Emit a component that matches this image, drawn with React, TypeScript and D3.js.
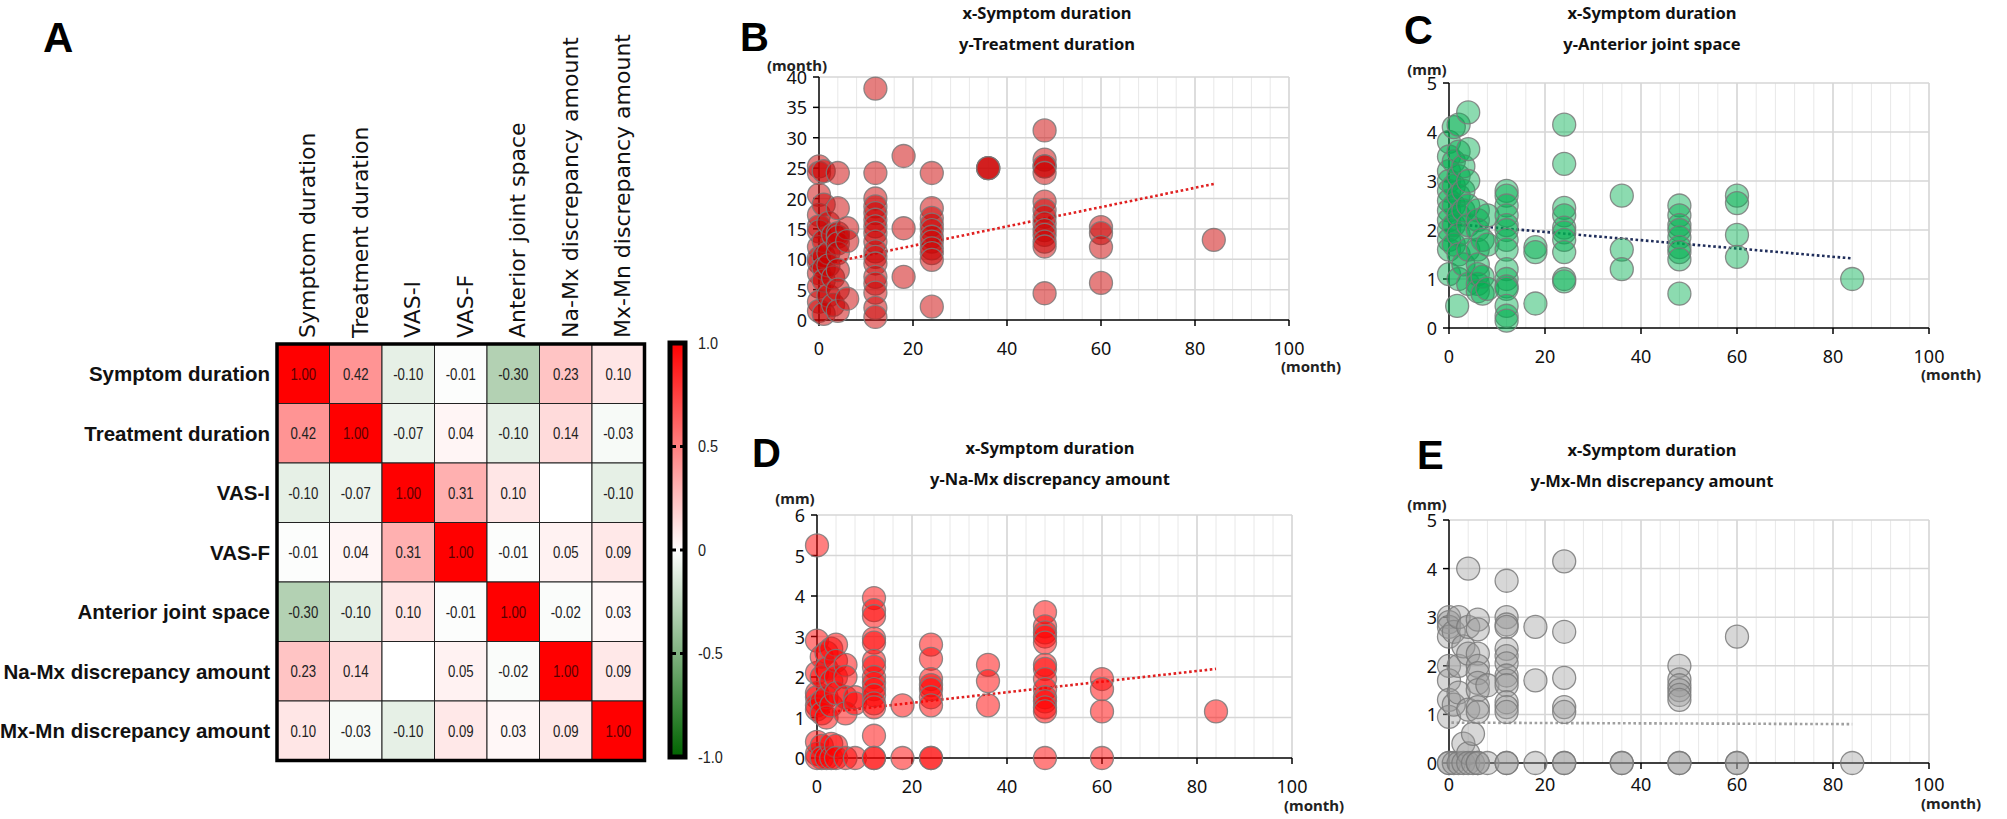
import React from 'react';
import * as d3 from 'd3';

// ---------------- DATA ----------------
const variables = [
  'Symptom duration',
  'Treatment duration',
  'VAS-I',
  'VAS-F',
  'Anterior joint space',
  'Na-Mx discrepancy amount',
  'Mx-Mn discrepancy amount',
];

const correlations: (number | null)[][] = [
  [1.0, 0.42, -0.1, -0.01, -0.3, 0.23, 0.1],
  [0.42, 1.0, -0.07, 0.04, -0.1, 0.14, -0.03],
  [-0.1, -0.07, 1.0, 0.31, 0.1, null, -0.1],
  [-0.01, 0.04, 0.31, 1.0, -0.01, 0.05, 0.09],
  [-0.3, -0.1, 0.1, -0.01, 1.0, -0.02, 0.03],
  [0.23, 0.14, null, 0.05, -0.02, 1.0, 0.09],
  [0.1, -0.03, -0.1, 0.09, 0.03, 0.09, 1.0],
];

const colorbarTicks = [1.0, 0.5, 0, -0.5, -1.0];
const colorbarTickLabels = ['1.0', '0.5', '0', '-0.5', '-1.0'];

const xTicks = [0, 20, 40, 60, 80, 100];
const yTicksB = [0, 5, 10, 15, 20, 25, 30, 35, 40];
const yTicksC = [0, 1, 2, 3, 4, 5];
const yTicksD = [0, 1, 2, 3, 4, 5, 6];
const yTicksE = [0, 1, 2, 3, 4, 5];

const titleB = ['x-Symptom duration', 'y-Treatment duration'];
const titleC = ['x-Symptom duration', 'y-Anterior joint space'];
const titleD = ['x-Symptom duration', 'y-Na-Mx discrepancy amount'];
const titleE = ['x-Symptom duration', 'y-Mx-Mn discrepancy amount'];

// x = symptom duration (month), y = treatment duration (month)
const panelBPoints: [number, number][] = [
  [0, 25.3], [0, 24.2], [0, 20.6], [0, 17.3], [0, 15.4], [0, 14.6], [0, 12], [0, 10.2], [0, 9.5], [0, 7.7], [0, 5.5], [0, 3], [0, 1.5],
  [1, 24.5], [1, 19], [1, 13], [1, 10.5], [1, 8.5], [1, 6.5], [1, 1],
  [2, 16], [2, 11], [2, 9], [2, 4],
  [3, 14], [3, 7], [3, 2.5],
  [4, 24.2], [4, 18.4], [4, 14.3], [4, 13.7], [4, 12.6], [4, 11], [4, 8.2], [4, 5], [4, 1.5],
  [6, 15.1], [6, 13], [6, 3.5],
  [12, 38.1], [12, 24.2], [12, 20], [12, 18.7], [12, 17.6], [12, 16.5], [12, 15.4], [12, 14.3], [12, 12.9], [12, 11.3], [12, 10.4], [12, 9.3], [12, 7.1], [12, 6], [12, 4.5], [12, 2], [12, 0.5],
  [18, 27], [18, 15.1], [18, 7.1],
  [24, 24.2], [24, 18.4], [24, 16.8], [24, 15.7], [24, 14.8], [24, 13.7], [24, 12.9], [24, 11.8], [24, 11], [24, 9.9], [24, 2.2],
  [36, 25], [36, 25], [36, 25],
  [48, 31.2], [48, 26.4], [48, 25.3], [48, 25.3], [48, 24.2], [48, 19.5], [48, 18.1], [48, 17], [48, 15.9], [48, 14.8], [48, 14], [48, 12.9], [48, 12.1], [48, 4.4],
  [60, 15.3], [60, 14.3], [60, 12], [60, 6.1],
  [84, 13.2],
];
const panelBTrend: [number, number][] = [[0, 9.05], [84, 22.4]];

// y = anterior joint space (mm)
const panelCPoints: [number, number][] = [
  [0, 3.8], [0, 3.5], [0, 3.2], [0, 3.0], [0, 2.8], [0, 2.6], [0, 2.4], [0, 2.2], [0, 2.0], [0, 1.8], [0, 1.6], [0, 1.1],
  [1, 4.1], [1, 3.4], [1, 2.9], [1, 2.5], [1, 2.1], [1, 1.7], [1.7, 0.45],
  [2, 4.15], [2, 3.6], [2, 3.1], [2, 2.7], [2, 2.3], [2, 1.9], [2, 1.5], [2, 1.0],
  [3, 3.3], [3, 2.8], [3, 2.4], [3, 1.3],
  [4, 4.4], [4, 3.65], [4, 3.0], [4, 2.5], [4, 2.1], [4, 1.6], [4, 0.9],
  [6, 2.4], [6, 2.2], [6, 2.0], [6, 1.6], [6, 1.3], [6, 1.1], [6, 0.9], [6, 0.75],
  [7, 1.8], [7, 1.05], [7, 0.7],
  [8, 2.3], [8, 1.7], [8, 0.8],
  [12, 2.8], [12, 2.7], [12, 2.5], [12, 2.3], [12, 2.1], [12, 2.0], [12, 1.8], [12, 1.6], [12, 1.2], [12, 1.0], [12, 0.85], [12, 0.8], [12, 0.45], [12, 0.25], [12, 0.15],
  [18, 1.65], [18, 1.55], [18, 0.5],
  [24, 4.15], [24, 3.35], [24, 2.45], [24, 2.3], [24, 2.05], [24, 1.95], [24, 1.8], [24, 1.55], [24, 1.0], [24, 0.95],
  [36, 2.7], [36, 1.6], [36, 1.2],
  [48, 2.5], [48, 2.3], [48, 2.1], [48, 2.0], [48, 1.85], [48, 1.65], [48, 1.55], [48, 1.4], [48, 0.7],
  [60, 2.7], [60, 2.55], [60, 1.9], [60, 1.45],
  [84, 1.0],
];
const panelCTrend: [number, number][] = [[0, 2.13], [84, 1.42]];

// y = Na-Mx discrepancy amount (mm)
const panelDPoints: [number, number][] = [
  [0, 5.25], [0, 2.9], [0, 2.1], [0, 1.6], [0, 1.5], [0, 1.3], [0, 1.2], [0, 0.4], [0, 0.1], [0, 0],
  [1, 2.5], [1, 2.0], [1, 1.4], [1, 1.1], [1, 0.3], [1, 0],
  [2, 2.6], [2, 2.2], [2, 1.5], [2, 1.0], [2, 0],
  [3, 2.7], [3, 1.9], [3, 1.3], [3, 0.35], [3, 0],
  [4, 2.8], [4, 2.4], [4, 2.0], [4, 1.6], [4, 0.3], [4, 0],
  [6, 2.3], [6, 2.0], [6, 1.5], [6, 1.1], [6, 0],
  [8, 1.5], [8, 1.35], [8, 0],
  [12, 3.95], [12, 3.65], [12, 3.5], [12, 2.95], [12, 2.85], [12, 2.4], [12, 2.25], [12, 2.0], [12, 1.85], [12, 1.7], [12, 1.55], [12, 1.35], [12, 1.25], [12, 0.55], [12, 0], [12, 0],
  [18, 1.3], [18, 0],
  [24, 2.8], [24, 2.45], [24, 1.95], [24, 1.8], [24, 1.7], [24, 1.5], [24, 1.3], [24, 0], [24, 0],
  [36, 2.3], [36, 1.9], [36, 1.3],
  [48, 3.6], [48, 3.25], [48, 3.1], [48, 3.0], [48, 2.85], [48, 2.3], [48, 2.2], [48, 1.95], [48, 1.7], [48, 1.5], [48, 1.4], [48, 1.25], [48, 1.15], [48, 0],
  [60, 1.95], [60, 1.7], [60, 1.15], [60, 0],
  [84, 1.15],
];
const panelDTrend: [number, number][] = [[0, 1.1], [84, 2.2]];

// y = Mx-Mn discrepancy amount (mm)
const panelEPoints: [number, number][] = [
  [0, 3.0], [0, 2.9], [0, 2.8], [0, 2.6], [0, 2.0], [0, 1.7], [0, 1.3], [0, 0.95], [0, 0], [0, 0],
  [1, 2.7], [1, 1.2], [1, 0],
  [2, 3.0], [2, 2.0], [2, 1.45], [2, 0],
  [3, 2.4], [3, 0.4], [3, 0],
  [4, 4.0], [4, 2.8], [4, 2.25], [4, 1.1], [4, 0.2], [4, 0],
  [5, 0.6], [5, 0],
  [6, 2.95], [6, 2.75], [6, 2.25], [6, 2.0], [6, 1.85], [6, 1.65], [6, 1.5], [6, 1.15], [6, 1.05], [6, 0], [6, 0],
  [8, 1.6], [8, 0],
  [12, 3.75], [12, 3.0], [12, 2.85], [12, 2.8], [12, 2.35], [12, 2.2], [12, 2.05], [12, 1.8], [12, 1.7], [12, 1.6], [12, 1.25], [12, 1.15], [12, 1.05], [12, 0], [12, 0],
  [18, 2.8], [18, 1.7], [18, 0],
  [24, 4.15], [24, 2.7], [24, 1.75], [24, 1.15], [24, 1.05], [24, 0], [24, 0],
  [36, 0], [36, 0],
  [48, 2.0], [48, 1.72], [48, 1.6], [48, 1.5], [48, 1.4], [48, 1.3], [48, 0], [48, 0],
  [60, 2.6], [60, 0], [60, 0],
  [84, 0],
];
const panelETrend: [number, number][] = [[0.5, 0.83], [84, 0.8]];

// ---------------- STYLE ----------------
const SANS = "'Noto Sans', 'Open Sans', 'DejaVu Sans', sans-serif";
const ARIAL = "'Liberation Sans', Arial, sans-serif";
const NARROW = "'Liberation Sans Narrow', 'Liberation Sans', Arial, sans-serif";

const posColor = d3.interpolateRgb('#ffffff', '#ff0000');
const negColor = d3.interpolateRgb('#ffffff', '#006400');
const corrColor = (v: number) => (v >= 0 ? posColor(v) : negColor(-v));

// ---------------- HEATMAP ----------------
function Heatmap() {
  const left = 277;
  const top = 344;
  const cw = 52.5;
  const ch = 59.5;
  const n = variables.length;
  const xb = d3.scaleBand<number>().domain(d3.range(n)).range([left, left + cw * n]);
  const yb = d3.scaleBand<number>().domain(d3.range(n)).range([top, top + ch * n]);

  const cbX = 670;
  const cbW = 15;
  const cbScale = d3.scaleLinear().domain([1, -1]).range([343, 757]);
  const gradStops = d3.range(0, 1.0001, 0.05);

  return (
    <g>
      <text x={43} y={52} fontFamily={ARIAL} fontWeight="bold" fontSize={42}>A</text>
      {variables.map((v, i) => (
        <text
          key={'c' + i}
          transform={`translate(${(xb(i) as number) + cw / 2 + 12},338) rotate(-90)`}
          fontFamily="'DejaVu Sans', Verdana, sans-serif"
          fontSize={22}
          fill="#111"
        >
          {v}
        </text>
      ))}
      {variables.map((v, i) => (
        <text
          key={'r' + i}
          x={270}
          y={(yb(i) as number) + ch / 2}
          textAnchor="end"
          dominantBaseline="central"
          fontFamily={ARIAL}
          fontWeight="bold"
          fontSize={20.5}
          fill="#111"
        >
          {v}
        </text>
      ))}
      {correlations.map((row, r) =>
        row.map((val, c) => (
          <g key={`cell${r}-${c}`}>
            <rect
              x={xb(c)}
              y={yb(r)}
              width={cw}
              height={ch}
              fill={val === null ? '#ffffff' : corrColor(val)}
              stroke="#222"
              strokeWidth={1}
            />
            {val !== null && (
              <g transform={`translate(${(xb(c) as number) + cw / 2},${(yb(r) as number) + ch / 2}) scale(0.8,1)`}>
                <text
                  textAnchor="middle"
                  dominantBaseline="central"
                  fontFamily={NARROW}
                  fontSize={16.5}
                  fill={val === 1 ? '#5a0000' : '#222'}
                >
                  {val.toFixed(2)}
                </text>
              </g>
            )}
          </g>
        ))
      )}
      <rect x={left} y={top} width={cw * n} height={ch * n} fill="none" stroke="#000" strokeWidth={3.5} />

      <defs>
        <linearGradient id="cbGrad" x1="0" y1="0" x2="0" y2="1">
          {gradStops.map((o, i) => (
            <stop key={i} offset={o} stopColor={corrColor(1 - 2 * o)} />
          ))}
        </linearGradient>
      </defs>
      <rect x={cbX} y={cbScale(1)} width={cbW} height={cbScale(-1) - cbScale(1)} fill="url(#cbGrad)" stroke="#000" strokeWidth={5} />
      {[0.5, 0, -0.5].map((t) => (
        <g key={'cbt' + t}>
          <line x1={cbX} x2={cbX + 6} y1={cbScale(t)} y2={cbScale(t)} stroke="#000" strokeWidth={3} />
          <line x1={cbX + cbW - 5} x2={cbX + cbW} y1={cbScale(t)} y2={cbScale(t)} stroke="#000" strokeWidth={3} />
        </g>
      ))}
      {colorbarTicks.map((t, i) => (
        <g key={'cbl' + i} transform={`translate(698,${cbScale(t)}) scale(0.85,1)`}>
          <text dominantBaseline="central" fontFamily={NARROW} fontSize={17} fill="#222">
            {colorbarTickLabels[i]}
          </text>
        </g>
      ))}
    </g>
  );
}

// ---------------- SCATTER PANEL ----------------
type PanelProps = {
  x0: number;
  x1: number;
  y0: number;
  yTop: number;
  yMax: number;
  yTicks: number[];
  points: [number, number][];
  trend: [number, number][];
  fill: string;
  fillOpacity: number;
  trendColor: string;
  letter: string;
  letterX: number;
  letterY: number;
  title: string[];
  titleX: number;
  titleY: number;
  yUnit: string;
  yUnitY: number;
  xLabelDy: number;
  xUnitDy: number;
};

function ScatterPanel(p: PanelProps) {
  const xs = d3.scaleLinear().domain([0, 100]).range([p.x0, p.x1]);
  const ys = d3.scaleLinear().domain([0, p.yMax]).range([p.y0, p.yTop]);
  const minorX = d3.range(4, 100, 4).filter((v) => v % 20 !== 0);
  const majorX = xTicks.filter((v) => v > 0);
  const trendPath = d3.line<[number, number]>().x((d) => xs(d[0])).y((d) => ys(d[1]))(p.trend) || '';

  return (
    <g>
      {/* grid */}
      {minorX.map((v) => (
        <line key={'mx' + v} x1={xs(v)} x2={xs(v)} y1={ys(0)} y2={ys(p.yMax)} stroke="#e8e8e8" strokeWidth={1} />
      ))}
      {majorX.map((v) => (
        <line key={'Mx' + v} x1={xs(v)} x2={xs(v)} y1={ys(0)} y2={ys(p.yMax)} stroke="#d2d2d2" strokeWidth={1.5} />
      ))}
      {p.yTicks.filter((v) => v > 0).map((v) => (
        <line key={'gy' + v} x1={xs(0)} x2={xs(100)} y1={ys(v)} y2={ys(v)} stroke="#d6d6d6" strokeWidth={1.5} />
      ))}

      {/* axes */}
      <line x1={xs(0)} x2={xs(0)} y1={ys(0)} y2={ys(p.yMax)} stroke="#000" strokeWidth={1.5} />
      <line x1={xs(0)} x2={xs(100)} y1={ys(0)} y2={ys(0)} stroke="#000" strokeWidth={1.5} />
      {p.yTicks.map((v) => (
        <line key={'ty' + v} x1={xs(0) - 6} x2={xs(0)} y1={ys(v)} y2={ys(v)} stroke="#000" strokeWidth={1.5} />
      ))}
      {xTicks.map((v) => (
        <line key={'tx' + v} x1={xs(v)} x2={xs(v)} y1={ys(0)} y2={ys(0) + 6} stroke="#000" strokeWidth={1.5} />
      ))}

      {/* trend line */}
      <path d={trendPath} fill="none" stroke={p.trendColor} strokeWidth={2.6} strokeDasharray="2.6 2.6" />

      {/* points */}
      {p.points.map((d, i) => (
        <circle
          key={i}
          cx={xs(d[0])}
          cy={ys(d[1])}
          r={11.5}
          fill={p.fill}
          fillOpacity={p.fillOpacity}
          stroke="#7a7a7a"
          strokeOpacity={0.85}
          strokeWidth={1.3}
        />
      ))}

      {/* tick labels */}
      {p.yTicks.map((v) => (
        <text key={'ly' + v} x={xs(0) - 12} y={ys(v)} textAnchor="end" dominantBaseline="central" fontFamily={SANS} fontSize={18} fill="#111">
          {v}
        </text>
      ))}
      {xTicks.map((v) => (
        <text key={'lx' + v} x={xs(v)} y={ys(0) + p.xLabelDy} textAnchor="middle" dominantBaseline="central" fontFamily={SANS} fontSize={18} fill="#111">
          {v}
        </text>
      ))}
      <text x={xs(100) - 8} y={ys(0) + p.xUnitDy} dominantBaseline="central" fontFamily={SANS} fontWeight="bold" fontSize={15} fill="#222">
        (month)
      </text>
      <text x={xs(0) - 22} y={p.yUnitY} textAnchor="middle" dominantBaseline="central" fontFamily={SANS} fontWeight="bold" fontSize={15} fill="#222">
        {p.yUnit}
      </text>

      {/* titles */}
      {p.title.map((t, i) => (
        <text key={'t' + i} x={p.titleX} y={p.titleY + i * 31} textAnchor="middle" dominantBaseline="central" fontFamily={SANS} fontWeight="bold" fontSize={16.5} fill="#111">
          {t}
        </text>
      ))}
      <text x={p.letterX} y={p.letterY} fontFamily={ARIAL} fontWeight="bold" fontSize={40} fill="#000">
        {p.letter}
      </text>
    </g>
  );
}

export default function App() {
  return (
    <svg
      width={2007}
      height={819}
      viewBox="0 0 2007 819"
      style={{ position: 'absolute', left: 0, top: 0, background: '#fff' }}
    >
      <rect x={0} y={0} width={2007} height={819} fill="#fff" />
      <Heatmap />
      <ScatterPanel
        x0={819} x1={1289} y0={320} yTop={77} yMax={40} yTicks={yTicksB}
        points={panelBPoints} trend={panelBTrend}
        fill="#cc0000" fillOpacity={0.5} trendColor="#e02020"
        letter="B" letterX={740} letterY={51}
        title={titleB} titleX={1047} titleY={12}
        yUnit="(month)" yUnitY={65}
        xLabelDy={28} xUnitDy={46}
      />
      <ScatterPanel
        x0={1449} x1={1929} y0={328} yTop={83} yMax={5} yTicks={yTicksC}
        points={panelCPoints} trend={panelCTrend}
        fill="#00b050" fillOpacity={0.45} trendColor="#1f2d5a"
        letter="C" letterX={1404} letterY={44}
        title={titleC} titleX={1652} titleY={12}
        yUnit="(mm)" yUnitY={69}
        xLabelDy={28} xUnitDy={46}
      />
      <ScatterPanel
        x0={817} x1={1292} y0={758} yTop={515} yMax={6} yTicks={yTicksD}
        points={panelDPoints} trend={panelDTrend}
        fill="#ff0000" fillOpacity={0.5} trendColor="#e02020"
        letter="D" letterX={752} letterY={467}
        title={titleD} titleX={1050} titleY={447}
        yUnit="(mm)" yUnitY={498}
        xLabelDy={28} xUnitDy={47}
      />
      <ScatterPanel
        x0={1449} x1={1929} y0={763} yTop={520} yMax={5} yTicks={yTicksE}
        points={panelEPoints} trend={panelETrend}
        fill="#9a9a9a" fillOpacity={0.4} trendColor="#a0a0a0"
        letter="E" letterX={1417} letterY={469}
        title={titleE} titleX={1652} titleY={449}
        yUnit="(mm)" yUnitY={504}
        xLabelDy={21} xUnitDy={40}
      />
    </svg>
  );
}
